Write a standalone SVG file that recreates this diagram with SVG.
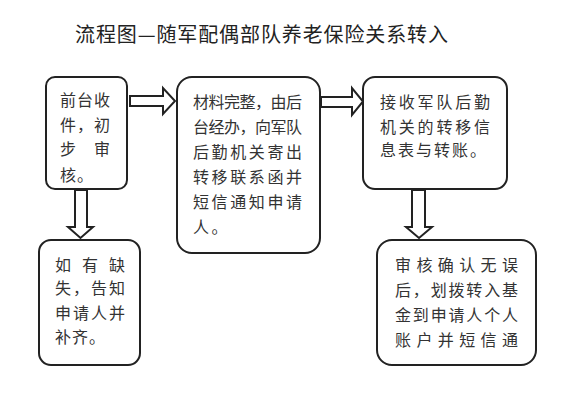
<svg xmlns="http://www.w3.org/2000/svg" width="563" height="400" viewBox="0 0 563 400">
<style>
.box{fill:#fff;stroke:#222;stroke-width:2}
.arr{fill:#fff;stroke:#222;stroke-width:2;stroke-linejoin:miter}
.t{font-family:"Noto Sans CJK SC","Noto Sans CJK TC",sans-serif;font-size:16px;fill:#333}
.title{font-family:"Noto Sans CJK SC","Noto Sans CJK TC",sans-serif;font-size:20px;fill:#222}
</style>
<rect width="563" height="400" fill="#fff"/>
<text class="title" x="75" y="42" textLength="373" lengthAdjust="spacing">流程图—随军配偶部队养老保险关系转入</text>
<g id="connectors">
<polygon class="arr" points="130,96 163,96 163,88 175,101 163,114 163,106 130,106"/>
<polygon class="arr" points="321,97 352,97 352,88 363,101.5 352,115 352,107 321,107"/>
<polygon class="arr" points="75,190 87,190 87,227 93,227 80.5,238 68,227 75,227"/>
<polygon class="arr" points="412,190 425,190 425,227 432,227 419,238 406,227 412,227"/>
</g>
<g id="node1">
<rect class="box" x="46" y="77" width="81" height="112" rx="9"/>
<text class="t" x="60" y="106" textLength="50" lengthAdjust="spacing">前台收</text>
<text class="t" x="60" y="131" textLength="50" lengthAdjust="spacing">件，初</text>
<text class="t" x="60" y="155" textLength="50" lengthAdjust="spacing">步　审</text>
<text class="t" x="60" y="181" letter-spacing="1">核。</text>
</g>
<g id="node2">
<rect class="box" x="177" y="77" width="143" height="176" rx="15"/>
<text class="t" x="193" y="108" textLength="109" lengthAdjust="spacing">材料完整，由后</text>
<text class="t" x="193" y="133" textLength="109" lengthAdjust="spacing">台经办，向军队</text>
<text class="t" x="193" y="158" textLength="109" lengthAdjust="spacing">后勤机关寄出</text>
<text class="t" x="193" y="183" textLength="109" lengthAdjust="spacing">转移联系函并</text>
<text class="t" x="193" y="208" textLength="109" lengthAdjust="spacing">短信通知申请</text>
<text class="t" x="193" y="233" letter-spacing="2.6">人。</text>
</g>
<g id="node3">
<rect class="box" x="363" y="77" width="144" height="112" rx="12"/>
<text class="t" x="380" y="108" textLength="110" lengthAdjust="spacing">接收军队后勤</text>
<text class="t" x="380" y="133" textLength="110" lengthAdjust="spacing">机关的转移信</text>
<text class="t" x="380" y="156" letter-spacing="2">息表与转账。</text>
</g>
<g id="node4">
<rect class="box" x="39" y="240" width="101" height="125" rx="12"/>
<text class="t" x="55" y="271" textLength="70" lengthAdjust="spacing">如有缺</text>
<text class="t" x="55" y="294" textLength="70" lengthAdjust="spacing">失，告知</text>
<text class="t" x="55" y="319" textLength="70" lengthAdjust="spacing">申请人并</text>
<text class="t" x="55" y="343" letter-spacing="1">补齐。</text>
</g>
<g id="node5">
<rect class="box" x="377" y="240" width="159" height="125" rx="15"/>
<text class="t" x="395" y="271" textLength="123" lengthAdjust="spacing">审核确认无误</text>
<text class="t" x="395" y="296" textLength="123" lengthAdjust="spacing">后，划拨转入基</text>
<text class="t" x="395" y="321" textLength="123" lengthAdjust="spacing">金到申请人个人</text>
<text class="t" x="395" y="346" textLength="123" lengthAdjust="spacing">账户并短信通</text>
</g>
</svg>
